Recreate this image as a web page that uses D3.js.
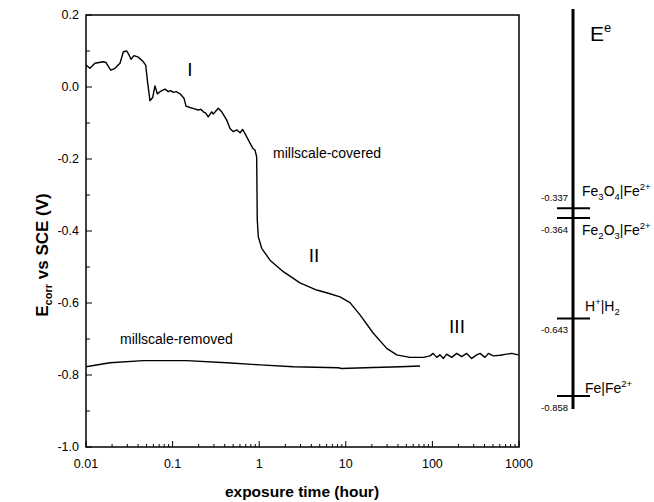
<!DOCTYPE html>
<html>
<head>
<meta charset="utf-8">
<script src="https://cdn.jsdelivr.net/npm/d3@7"></script>
<style>
  body { margin: 0; background: #fff; }
  svg text { font-family: "Liberation Sans", Arial, sans-serif; fill: #000; }
</style>
</head>
<body>
<svg id="chart" width="654" height="502"></svg>
<script>
// millscale-covered curve: [exposure time (h), Ecorr (V)]
var coveredTime = [0.0100, 0.0111, 0.0127, 0.0158, 0.0170, 0.0193, 0.0216, 0.0247, 0.0270, 0.0295,
  0.0314, 0.0331, 0.0358, 0.0402, 0.0459, 0.0489, 0.0516, 0.0548, 0.0589, 0.0626,
  0.0666, 0.0715, 0.0817, 0.0892, 0.095, 0.1019, 0.110, 0.1218, 0.1354, 0.1428, 0.1589, 0.175, 0.198,
  0.212, 0.226, 0.240, 0.258, 0.283, 0.295, 0.337, 0.369, 0.422, 0.460, 0.503, 0.550,
  0.600, 0.645, 0.698, 0.783, 0.841, 0.894, 0.935, 0.950, 0.976, 1.069,
  1.333, 1.898, 2.955, 4.61, 6.28, 8.57, 11.18, 14.59, 20.8, 29.7,
  38.7, 55.1, 78.5, 93.8, 102, 112, 122, 134, 146, 167,
  191, 218, 249, 284, 325, 355, 405, 443, 505, 604,
  721, 824, 982];
var coveredE = [0.061, 0.052, 0.066, 0.070, 0.068, 0.047, 0.052, 0.066, 0.098, 0.100,
  0.089, 0.077, 0.087, 0.083, 0.070, 0.061, 0.010, -0.038, -0.029, 0.003,
  -0.019, -0.013, -0.006, -0.013, -0.010, -0.015, -0.013, -0.019, -0.031, -0.053, -0.057, -0.060, -0.064,
  -0.062, -0.069, -0.072, -0.083, -0.069, -0.075, -0.059, -0.069, -0.092, -0.115, -0.124, -0.119,
  -0.127, -0.118, -0.133, -0.156, -0.170, -0.175, -0.194, -0.369, -0.416, -0.448,
  -0.481, -0.513, -0.544, -0.564, -0.573, -0.583, -0.599, -0.633, -0.684, -0.726,
  -0.744, -0.751, -0.751, -0.747, -0.740, -0.751, -0.744, -0.754, -0.742, -0.751,
  -0.740, -0.749, -0.740, -0.754, -0.744, -0.740, -0.751, -0.740, -0.747, -0.745,
  -0.742, -0.740, -0.744];

// millscale-removed curve
var removedTime = [0.01, 0.0189, 0.0459, 0.1455, 0.422, 1.02, 2.48, 8.2, 8.9, 20.8, 42.3, 71.9];
var removedE = [-0.777, -0.766, -0.760, -0.760, -0.766, -0.772, -0.777, -0.780, -0.782, -0.779, -0.777, -0.775];

// equilibrium potentials on the right-hand scale
var eqPotentials = [-0.337, -0.364, -0.643, -0.858];
var eqLabels = ["-0.337", "-0.364", "-0.643", "-0.858"];

var xTicks = [0.01, 0.1, 1, 10, 100, 1000];
var xTickLabels = ["0.01", "0.1", "1", "10", "100", "1000"];
var yTicks = [0.2, 0.0, -0.2, -0.4, -0.6, -0.8, -1.0];
var yTickLabels = ["0.2", "0.0", "-0.2", "-0.4", "-0.6", "-0.8", "-1.0"];

var margin = {top: 15, left: 86, right: 135, bottom: 55};
var width = 519 - margin.left;
var height = 447 - margin.top;

var svg = d3.select("#chart");
var g = svg.append("g")
    .attr("transform", "translate(" + margin.left + "," + margin.top + ")");

var x = d3.scaleLog().domain([0.01, 1000]).range([0, width]);
var y = d3.scaleLinear().domain([-1.0, 0.2]).range([height, 0]);

// minor x ticks 2..9 per decade
var xMinor = [];
[0.01, 0.1, 1, 10, 100].forEach(function(d) {
  for (var k = 2; k <= 9; k++) xMinor.push(d * k);
});
var yMinor = [0.1, -0.1, -0.3, -0.5, -0.7, -0.9];

// bottom axis (ticks pointing inward)
var xAxis = g.append("g").attr("transform", "translate(0," + height + ")");
xAxis.selectAll(".minor").data(xMinor).enter().append("line")
    .attr("x1", function(d) { return x(d); }).attr("x2", function(d) { return x(d); })
    .attr("y1", 0).attr("y2", -3)
    .attr("stroke", "#000").attr("stroke-width", 1);
xAxis.selectAll(".major").data(xTicks).enter().append("line")
    .attr("x1", function(d) { return x(d); }).attr("x2", function(d) { return x(d); })
    .attr("y1", 0).attr("y2", -6)
    .attr("stroke", "#000").attr("stroke-width", 1);
xAxis.selectAll("text").data(xTicks).enter().append("text")
    .attr("x", function(d) { return x(d); })
    .attr("y", 21)
    .attr("text-anchor", "middle")
    .style("font-size", "12.5px")
    .text(function(d, i) { return xTickLabels[i]; });

// left axis
var yAxis = g.append("g");
yAxis.selectAll(".minor").data(yMinor).enter().append("line")
    .attr("x1", 0).attr("x2", 4)
    .attr("y1", function(d) { return y(d); }).attr("y2", function(d) { return y(d); })
    .attr("stroke", "#000").attr("stroke-width", 1);
yAxis.selectAll(".major").data(yTicks).enter().append("line")
    .attr("x1", 0).attr("x2", 6)
    .attr("y1", function(d) { return y(d); }).attr("y2", function(d) { return y(d); })
    .attr("stroke", "#000").attr("stroke-width", 1);
yAxis.selectAll("text").data(yTicks).enter().append("text")
    .attr("x", -7)
    .attr("y", function(d) { return y(d); })
    .attr("dy", "0.35em")
    .attr("text-anchor", "end")
    .style("font-size", "12.5px")
    .text(function(d, i) { return yTickLabels[i]; });

// frame
g.append("rect")
    .attr("width", width).attr("height", height)
    .attr("fill", "none").attr("stroke", "#000").attr("stroke-width", 1.5);

// curves
var line = d3.line()
    .x(function(d) { return x(d[0]); })
    .y(function(d) { return y(d[1]); });

g.append("path")
    .datum(coveredTime.map(function(t, i) { return [t, coveredE[i]]; }))
    .attr("d", line)
    .attr("fill", "none").attr("stroke", "#000").attr("stroke-width", 1.4)
    .attr("stroke-linejoin", "round");

g.append("path")
    .datum(removedTime.map(function(t, i) { return [t, removedE[i]]; }))
    .attr("d", line)
    .attr("fill", "none").attr("stroke", "#000").attr("stroke-width", 1.4);

// in-plot labels
function label(txt, px, py, size, anchor) {
  svg.append("text").attr("x", px).attr("y", py)
    .attr("text-anchor", anchor || "start")
    .style("font-size", size + "px")
    .text(txt);
}
label("I", 190, 76, 19, "middle");
label("millscale-covered", 273, 158, 14);
label("II", 314, 262, 19, "middle");
label("III", 457, 333, 19, "middle");
label("millscale-removed", 120, 344, 14);

// axis titles
svg.append("text")
    .attr("x", 302).attr("y", 497)
    .attr("text-anchor", "middle")
    .style("font-size", "15.5px").style("font-weight", "bold")
    .text("exposure time (hour)");

var yt = svg.append("text")
    .attr("transform", "translate(48,255) rotate(-90)")
    .attr("text-anchor", "middle")
    .style("font-size", "17px").style("font-weight", "bold");
yt.append("tspan").text("E");
yt.append("tspan").attr("dy", 4).style("font-size", "11px").text("corr");
yt.append("tspan").attr("dy", -4).text(" vs SCE (V)");

// right-hand equilibrium potential scale
var sx = 573;
svg.append("line")
    .attr("x1", sx).attr("x2", sx).attr("y1", 9).attr("y2", 409)
    .attr("stroke", "#000").attr("stroke-width", 3);

var eq = svg.append("g").attr("transform", "translate(0," + margin.top + ")");
eq.selectAll("line").data(eqPotentials).enter().append("line")
    .attr("x1", sx - 16).attr("x2", sx + 17)
    .attr("y1", function(d) { return y(d); }).attr("y2", function(d) { return y(d); })
    .attr("stroke", "#000").attr("stroke-width", 2);
eq.selectAll("text.val").data(eqPotentials).enter().append("text")
    .attr("class", "val")
    .attr("x", sx - 5)
    .attr("y", function(d, i) { return y(d) + (i === 0 ? -7 : 15); })
    .attr("text-anchor", "end")
    .style("font-size", "9.5px")
    .text(function(d, i) { return eqLabels[i]; });

function species(parts, px, py) {
  var t = svg.append("text").attr("x", px).attr("y", py).style("font-size", "14px");
  parts.forEach(function(p) {
    var s = t.append("tspan").text(p[0]);
    if (p[1] === "sub") s.attr("dy", 4).style("font-size", "9.5px");
    else if (p[1] === "sup") s.attr("dy", -6).style("font-size", "9.5px");
    else if (p[1] === "subback") s.attr("dy", -4);
    else if (p[1] === "supback") s.attr("dy", 6);
  });
}
var ys = function(v) { return y(v) + margin.top; };
species([["Fe"], ["3", "sub"], ["O", "subback"], ["4", "sub"], ["|Fe", "subback"], ["2+", "sup"]], 582, ys(-0.337) - 12);
species([["Fe"], ["2", "sub"], ["O", "subback"], ["3", "sub"], ["|Fe", "subback"], ["2+", "sup"]], 582, ys(-0.364) + 17);
species([["H"], ["+", "sup"], ["|H", "supback"], ["2", "sub"]], 585, ys(-0.643) - 7);
species([["Fe|Fe"], ["2+", "sup"]], 585, ys(-0.858) - 3);

var ee = svg.append("text").attr("x", 590).attr("y", 41).style("font-size", "21px");
ee.append("tspan").text("E");
ee.append("tspan").attr("dy", -9).style("font-size", "13px").text("e");
</script>
</body>
</html>
